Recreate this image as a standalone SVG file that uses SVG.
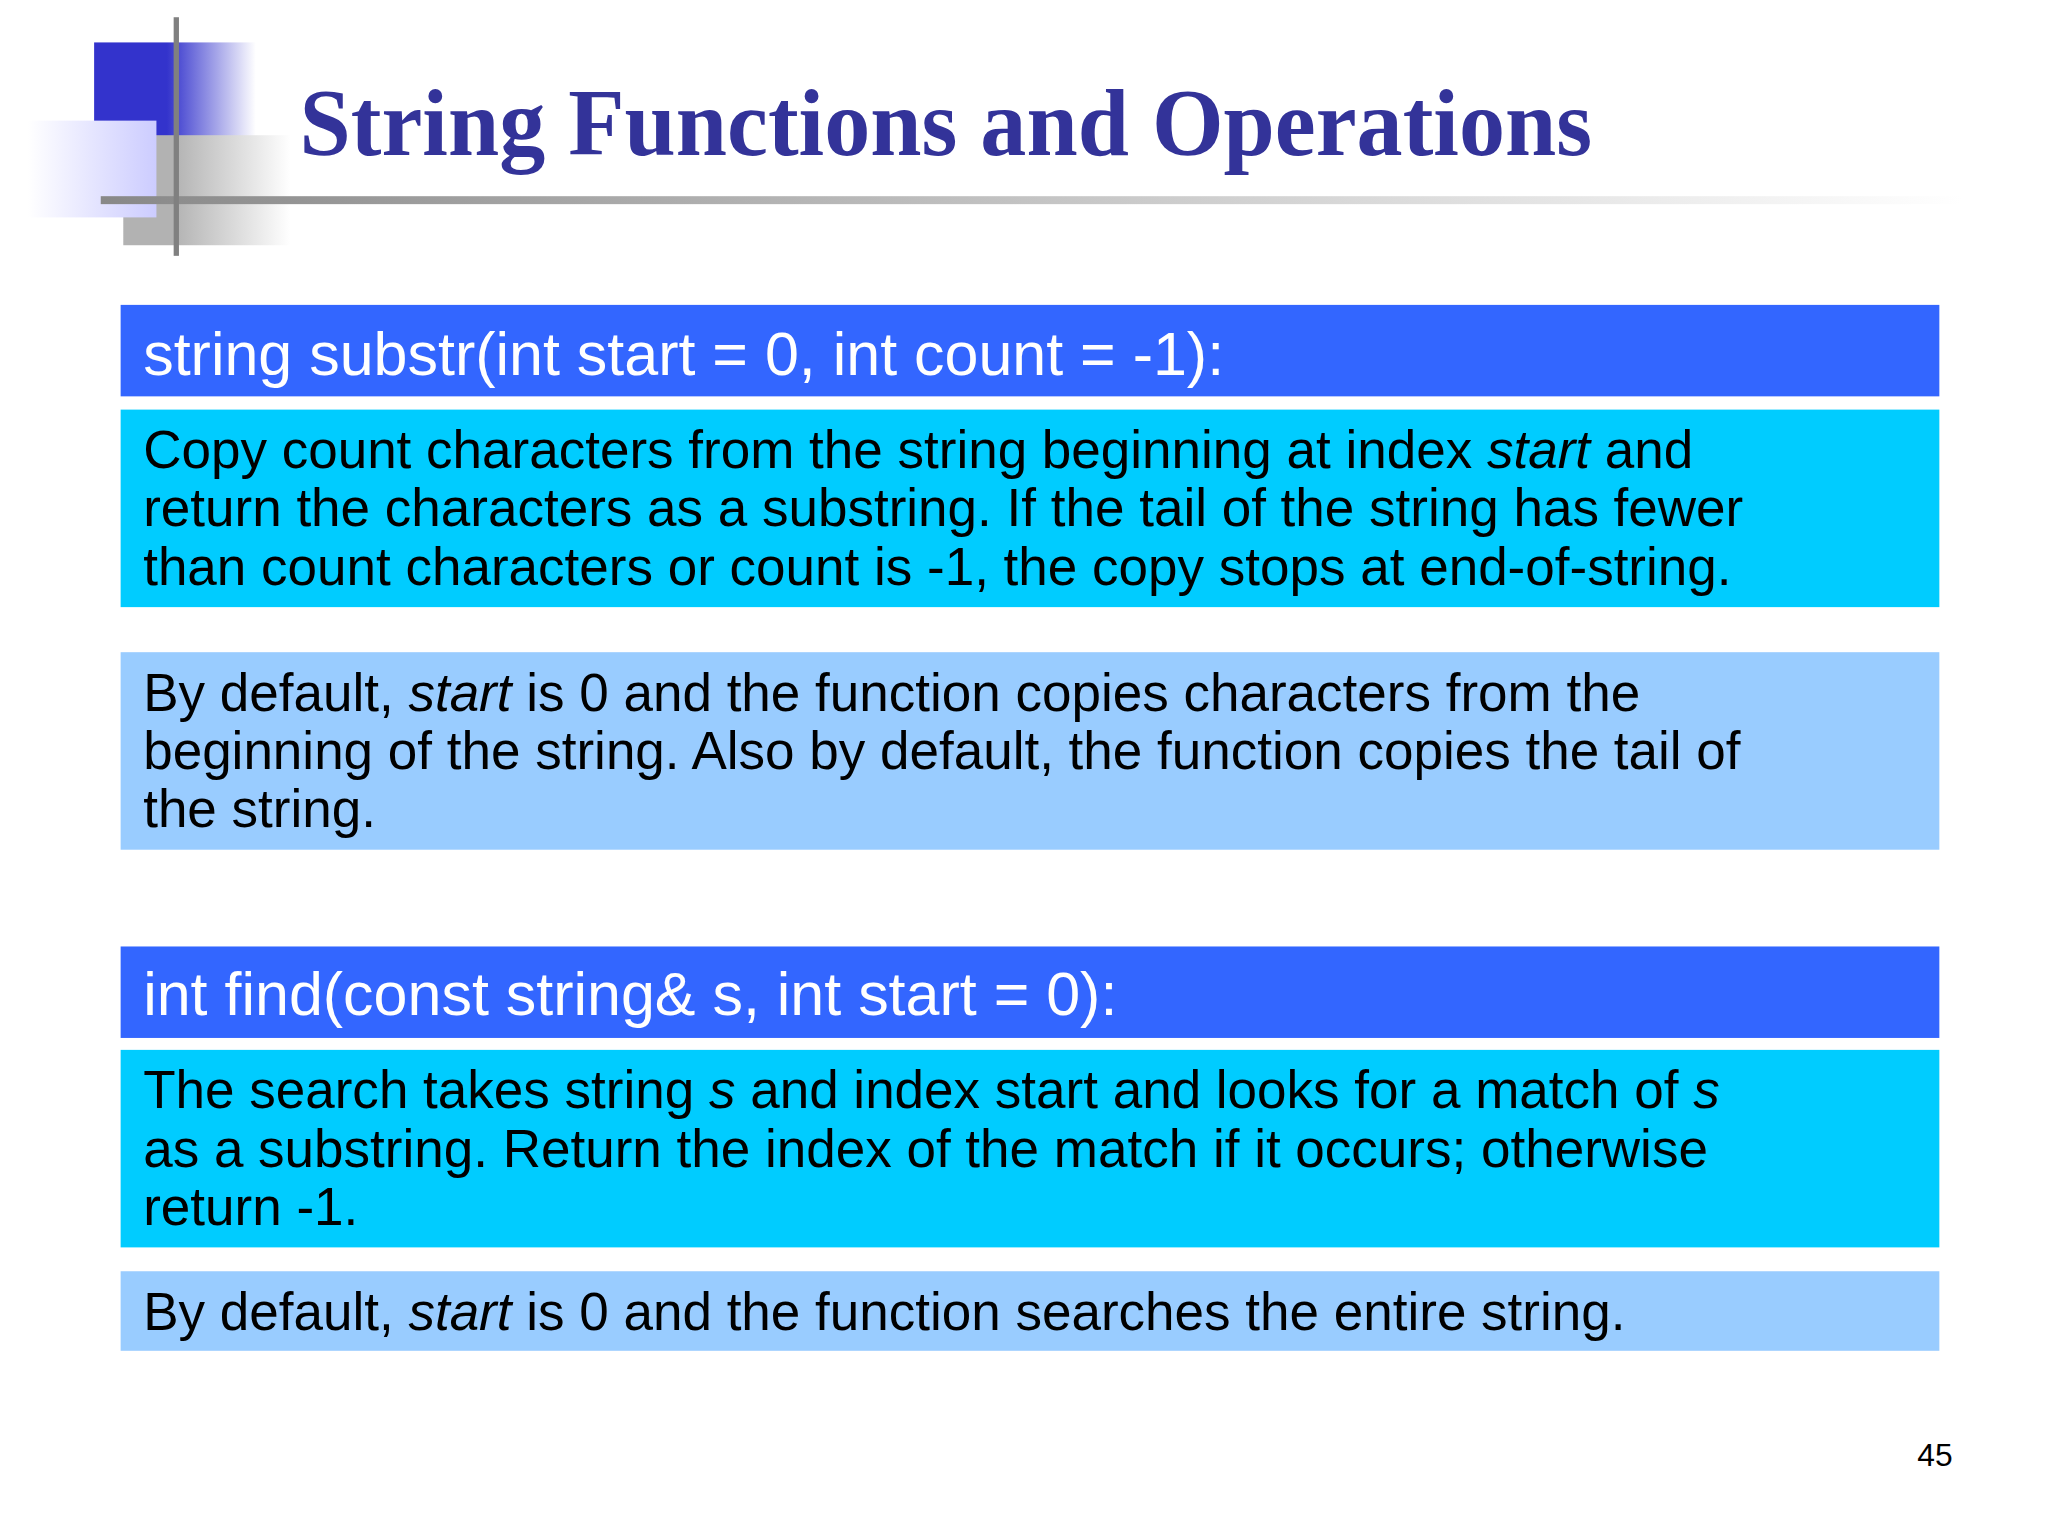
<svg xmlns="http://www.w3.org/2000/svg" width="2048" height="1536" viewBox="0 0 2048 1536">
<defs>
<linearGradient id="gb" x1="0" x2="1"><stop offset="0.45" stop-color="#3333CC"/><stop offset="1" stop-color="#FFFFFF"/></linearGradient>
<linearGradient id="gl" x1="0" x2="1"><stop offset="0" stop-color="#FFFFFF"/><stop offset="1" stop-color="#CCCCFF"/></linearGradient>
<linearGradient id="gg" x1="0" x2="1"><stop offset="0.3" stop-color="#B2B2B2"/><stop offset="1" stop-color="#FFFFFF"/></linearGradient>
<linearGradient id="gh" x1="0" x2="1"><stop offset="0" stop-color="#888888"/><stop offset="1" stop-color="#FFFFFF"/></linearGradient>
<style>
.h{fill:#3366FF}.d{fill:#00CCFF}.l{fill:#99CCFF}
.ht{font-family:"Liberation Sans",Arial,sans-serif;font-size:46px;fill:#FFFFFF}
.bt{font-family:"Liberation Sans",Arial,sans-serif;font-size:40px;fill:#000000}
.i{font-style:italic}
</style>
</defs>
<rect width="2048" height="1536" fill="#FFFFFF"/>
<g transform="scale(1.3256)">
<g id="decor">
<rect x="71" y="32" width="122" height="103" fill="url(#gb)"/>
<rect x="93" y="102" width="126" height="83" fill="url(#gg)"/>
<rect x="21" y="91" width="97" height="73" fill="url(#gl)"/>
<rect x="76" y="148" width="1404" height="6" fill="url(#gh)"/>
<rect x="131" y="13" width="4" height="180" fill="#808080"/>
</g>
<g id="title"><text x="226" y="117" font-family="Liberation Serif,serif" font-weight="bold" font-size="72" fill="#333399" textLength="975" lengthAdjust="spacingAndGlyphs">String Functions and Operations</text></g>
<g id="n1"><rect class="h" x="91" y="230" width="1372" height="69"/><text class="ht" x="108" y="283">string substr(int start = 0, int count = -1):</text></g>
<g id="n2"><rect class="d" x="91" y="309" width="1372" height="149"/>
<text class="bt" x="108" y="353">Copy count characters from the string beginning at index <tspan class="i">start</tspan> and</text>
<text class="bt" x="108" y="397">return the characters as a substring. If the tail of the string has fewer</text>
<text class="bt" x="108" y="441">than count characters or count is -1, the copy stops at end-of-string.</text></g>
<g id="n3"><rect class="l" x="91" y="492" width="1372" height="149"/>
<text class="bt" x="108" y="536">By default, <tspan class="i">start</tspan> is 0 and the function copies characters from the</text>
<text class="bt" x="108" y="580">beginning of the string. Also by default, the function copies the tail of</text>
<text class="bt" x="108" y="624">the string.</text></g>
<g id="n4"><rect class="h" x="91" y="714" width="1372" height="69"/><text class="ht" x="108" y="766">int find(const string&amp; s, int start = 0):</text></g>
<g id="n5"><rect class="d" x="91" y="792" width="1372" height="149"/>
<text class="bt" x="108" y="836">The search takes string <tspan class="i">s</tspan> and index start and looks for a match of <tspan class="i">s</tspan></text>
<text class="bt" x="108" y="880">as a substring. Return the index of the match if it occurs; otherwise</text>
<text class="bt" x="108" y="924">return -1.</text></g>
<g id="n6"><rect class="l" x="91" y="959" width="1372" height="60"/>
<text class="bt" x="108" y="1003">By default, <tspan class="i">start</tspan> is 0 and the function searches the entire string.</text></g>
<g id="connectors"/>
<text x="1473" y="1106" text-anchor="end" font-family="Liberation Sans,Arial,sans-serif" font-size="24" fill="#000000">45</text>
</g>
</svg>
